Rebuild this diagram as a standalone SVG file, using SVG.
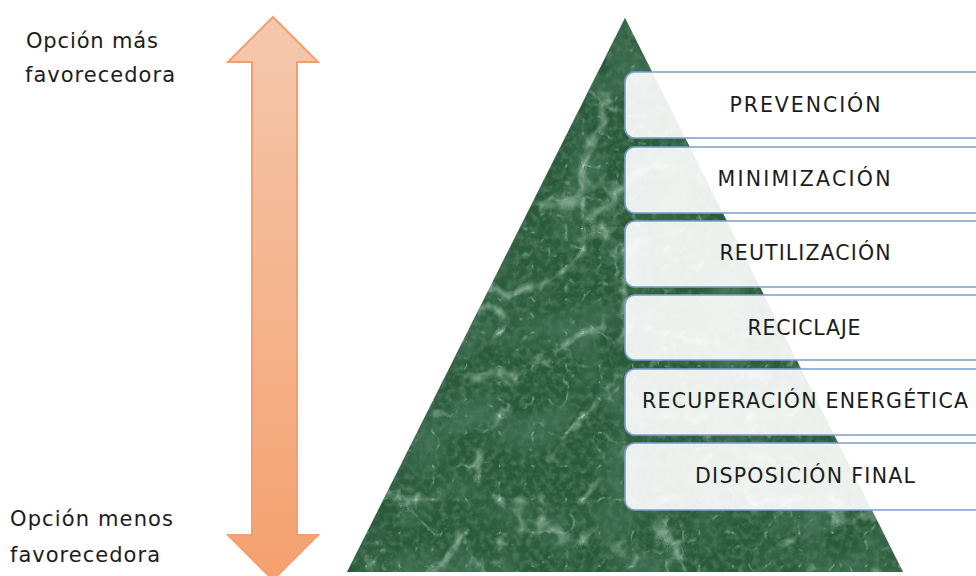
<svg xmlns="http://www.w3.org/2000/svg" width="976" height="576" viewBox="0 0 976 576">
  <defs>
    <linearGradient id="arrowGrad" x1="0" y1="0" x2="0" y2="1">
      <stop offset="0" stop-color="#f4c8ae"/>
      <stop offset="1" stop-color="#f5a16e"/>
    </linearGradient>
    <clipPath id="pyrClip">
      <polygon points="625,18 347,572 903,572"/>
    </clipPath>
    <filter id="mottle" x="340" y="10" width="570" height="570" filterUnits="userSpaceOnUse">
      <feTurbulence type="fractalNoise" baseFrequency="0.02" numOctaves="3" seed="5" result="m"/>
      <feColorMatrix in="m" type="matrix" values="0 0 0 0 0.06  0 0 0 0 0.17  0 0 0 0 0.1  2.2 0 0 0 -0.95"/>
    </filter>
    <filter id="veins" x="340" y="10" width="570" height="570" filterUnits="userSpaceOnUse">
      <feTurbulence type="turbulence" baseFrequency="0.012" numOctaves="4" seed="11" result="t"/>
      <feColorMatrix in="t" type="matrix" values="0 0 0 0 0.55  0 0 0 0 0.75  0 0 0 0 0.62  -3.5 0 0 0 0.62"/>
    </filter>
    <filter id="veins2" x="340" y="10" width="570" height="570" filterUnits="userSpaceOnUse">
      <feTurbulence type="turbulence" baseFrequency="0.03" numOctaves="3" seed="4" result="t"/>
      <feColorMatrix in="t" type="matrix" values="0 0 0 0 0.42  0 0 0 0 0.62  0 0 0 0 0.5  -4.5 0 0 0 0.5"/>
    </filter>
    <filter id="speckle" x="340" y="10" width="570" height="570" filterUnits="userSpaceOnUse">
      <feTurbulence type="fractalNoise" baseFrequency="0.15" numOctaves="3" seed="2" result="n"/>
      <feColorMatrix in="n" type="matrix" values="0 0 0 0 0.07  0 0 0 0 0.2  0 0 0 0 0.11  0 2 0 0 -0.8"/>
    </filter>
    <style>
      .box { fill: #ffffff; fill-opacity: 0.91; stroke: #7b9fd0; stroke-width: 1.6; }
      .lbl { font-family: "DejaVu Sans", "Liberation Sans", sans-serif; font-size: 20.5px; fill: #1c1c1c; text-anchor: middle; }
      .side { font-family: "DejaVu Sans", "Liberation Sans", sans-serif; font-size: 21px; fill: #1c1c1c; }
    </style>
  </defs>

  <rect x="0" y="0" width="976" height="576" fill="#ffffff"/>

  <g id="arrow">
    <path d="M273,17 L318,62 L297,62 L297,535 L318,535 L273,580 L228,535 L252,535 L252,62 L228,62 Z" fill="url(#arrowGrad)" stroke="#f0a070" stroke-width="2" stroke-linejoin="miter"/>
  </g>

  <g id="label-top">
    <text class="side" x="26" y="48" textLength="132" lengthAdjust="spacing">Opción más</text>
    <text class="side" x="25" y="82" textLength="150" lengthAdjust="spacing">favorecedora</text>
  </g>
  <g id="label-bottom">
    <text class="side" x="10" y="526" textLength="163" lengthAdjust="spacing">Opción menos</text>
    <text class="side" x="10" y="562" textLength="150" lengthAdjust="spacing">favorecedora</text>
  </g>

  <g id="pyramid">
    <g clip-path="url(#pyrClip)">
      <rect x="340" y="10" width="570" height="570" fill="#2b5a3a"/>
      <rect x="340" y="10" width="570" height="570" filter="url(#mottle)"/>
      <rect x="340" y="10" width="570" height="570" filter="url(#speckle)"/>
      <rect x="340" y="10" width="570" height="570" filter="url(#veins2)"/>
      <rect x="340" y="10" width="570" height="570" filter="url(#veins)"/>
    </g>
  </g>

  <g id="prevencion">
    <rect class="box" x="625" y="72" width="400" height="66" rx="10"/>
    <text class="lbl" x="805" y="112" textLength="151" lengthAdjust="spacing">PREVENCIÓN</text>
  </g>
  <g id="minimizacion">
    <rect class="box" x="625" y="147" width="400" height="66" rx="10"/>
    <text class="lbl" x="804" y="186" textLength="173" lengthAdjust="spacing">MINIMIZACIÓN</text>
  </g>
  <g id="reutilizacion">
    <rect class="box" x="625" y="221" width="400" height="66" rx="10"/>
    <text class="lbl" x="805" y="260" textLength="171" lengthAdjust="spacing">REUTILIZACIÓN</text>
  </g>
  <g id="reciclaje">
    <rect class="box" x="625" y="295" width="400" height="65" rx="10"/>
    <text class="lbl" x="804" y="335" textLength="113" lengthAdjust="spacing">RECICLAJE</text>
  </g>
  <g id="recuperacion">
    <rect class="box" x="625" y="369" width="400" height="66" rx="10"/>
    <text class="lbl" x="805" y="408" textLength="326" lengthAdjust="spacing">RECUPERACIÓN ENERGÉTICA</text>
  </g>
  <g id="disposicion">
    <rect class="box" x="625" y="443" width="400" height="67" rx="10"/>
    <text class="lbl" x="805" y="483" textLength="220" lengthAdjust="spacing">DISPOSICIÓN FINAL</text>
  </g>

  <g id="connectors"/>
</svg>
